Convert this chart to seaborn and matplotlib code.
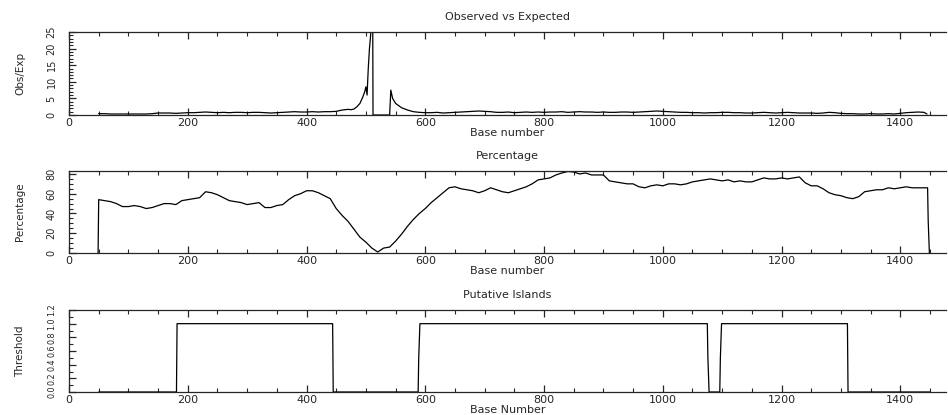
import pandas as pd
import matplotlib.pyplot as plt
import seaborn as sns
from matplotlib.ticker import MultipleLocator

obs_base = [50, 60, 70, 80, 90, 100, 110, 120, 130, 140, 150, 160, 170, 180, 190,
            200, 210, 220, 230, 240, 250, 260, 270, 280, 290, 300, 310, 320, 330, 340,
            350, 360, 370, 380, 390, 400, 410, 420, 430, 440, 450, 460, 470, 475, 480,
            485, 490, 495, 498, 500, 502, 504, 506, 508, 510, 511, 512, 540, 541, 542,
            545, 550, 560, 570, 580, 590, 600, 610, 620, 630, 640, 650, 660, 670, 680,
            690, 700, 710, 720, 730, 740, 750, 760, 770, 780, 790, 800, 810, 820, 830,
            840, 850, 860, 870, 880, 890, 900, 910, 920, 930, 940, 950, 960, 970, 980,
            990, 1000, 1010, 1020, 1030, 1040, 1050, 1060, 1070, 1080, 1090, 1100, 1110,
            1120, 1130, 1140, 1150, 1160, 1170, 1180, 1190, 1200, 1210, 1220, 1230, 1240,
            1250, 1260, 1270, 1280, 1290, 1300, 1310, 1320, 1330, 1340, 1350, 1360, 1370,
            1380, 1390, 1400, 1410, 1420, 1430, 1440, 1445]
obs_exp = [0.4, 0.4, 0.3, 0.3, 0.3, 0.3, 0.3, 0.3, 0.3, 0.4, 0.6, 0.6, 0.6, 0.5, 0.6,
           0.7, 0.7, 0.8, 0.9, 0.8, 0.7, 0.8, 0.7, 0.8, 0.8, 0.7, 0.8, 0.8, 0.7, 0.6,
           0.7, 0.8, 0.9, 1.0, 0.9, 0.9, 1.0, 0.9, 1.0, 1.0, 1.1, 1.5, 1.7, 1.6, 1.8,
           2.5, 3.5, 5.5, 7.0, 8.5, 6.0, 14, 20, 24, 60, 60, 0, 0, 3.5, 7.5,
           5.0, 3.5, 2.2, 1.5, 1.0, 0.8, 0.7, 0.7, 0.8, 0.6, 0.7, 0.8, 0.9, 1.0, 1.1,
           1.2, 1.1, 1.0, 0.8, 0.8, 0.9, 0.7, 0.8, 0.9, 0.8, 0.9, 0.8, 0.9, 0.9, 1.0,
           0.8, 0.9, 1.0, 0.9, 0.9, 0.8, 0.9, 0.8, 0.8, 0.9, 0.9, 0.8, 0.9, 1.0, 1.1,
           1.2, 1.1, 1.0, 0.9, 0.8, 0.8, 0.7, 0.7, 0.6, 0.7, 0.7, 0.8, 0.8,
           0.7, 0.7, 0.6, 0.6, 0.7, 0.8, 0.7, 0.6, 0.7, 0.8, 0.7, 0.6, 0.6,
           0.6, 0.5, 0.6, 0.8, 0.7, 0.5, 0.4, 0.4, 0.3, 0.3, 0.4, 0.3, 0.3,
           0.4, 0.3, 0.5, 0.7, 0.8, 0.9, 0.8, 0.3]

pct_base = [49, 50, 60, 70, 80, 90, 100, 110, 120, 130, 140, 150, 160, 170, 180, 190,
            200, 210, 220, 230, 240, 250, 260, 270, 280, 290, 300, 310, 320, 330, 340,
            350, 360, 370, 380, 390, 400, 410, 420, 430, 440, 450, 460, 470, 480, 490,
            500, 510, 520, 530, 540, 550, 560, 570, 580, 590, 600, 610, 620, 630, 640,
            650, 660, 670, 680, 690, 700, 710, 720, 730, 740, 750, 760, 770, 780, 790,
            800, 810, 820, 830, 840, 850, 860, 870, 880, 890, 900, 910, 920, 930, 940,
            950, 960, 970, 980, 990, 1000, 1010, 1020, 1030, 1040, 1050, 1060, 1070,
            1080, 1090, 1100, 1110, 1120, 1130, 1140, 1150, 1160, 1170, 1180, 1190,
            1200, 1210, 1220, 1230, 1240, 1250, 1260, 1270, 1280, 1290, 1300, 1310,
            1320, 1330, 1340, 1350, 1360, 1370, 1380, 1390, 1400, 1410, 1420, 1430,
            1440, 1446, 1447, 1449]
percentage = [0, 54, 53, 52, 50, 47, 47, 48, 47, 45, 46, 48, 50, 50, 49, 53,
              54, 55, 56, 62, 61, 59, 56, 53, 52, 51, 49, 50, 51, 46, 46,
              48, 49, 54, 58, 60, 63, 63, 61, 58, 55, 45, 38, 32, 24, 16,
              11, 5, 1, 5, 6, 12, 19, 27, 34, 40, 45, 51, 56, 61, 66,
              67, 65, 64, 63, 61, 63, 66, 64, 62, 61, 63, 65, 67, 70, 74,
              75, 76, 79, 81, 82.5, 82, 80, 81, 79, 79, 79, 73, 72, 71, 70,
              70, 67, 66, 68, 69, 68, 70, 70, 69, 70, 72, 73, 74,
              75, 74, 73, 74, 72, 73, 72, 72, 74, 76, 75, 75,
              76, 75, 76, 77, 71, 68, 68, 65, 61, 59, 58, 56,
              55, 57, 62, 63, 64, 64, 66, 65, 66, 67, 66, 66,
              66, 66, 33, 0]

isl_base = [50, 181, 182, 444, 445, 588, 589, 591, 1075, 1076, 1078,
            1096, 1097, 1099, 1311, 1312, 1450]
isl_flag = [0, 0, 1, 1, 0, 0, 0.5, 1, 1, 0.5, 0,
            0, 0.5, 1, 1, 0, 0]
isl_ticks = [0.0, 0.2, 0.4, 0.6, 0.8, 1.0, 1.2]

sns.set_style("ticks")
plt.rcParams['font.family'] = ['DejaVu Sans']

fig = plt.figure(figsize=(9.48, 4.15), dpi=100)
left, width = 69 / 948, 877 / 948
boxes = [(32, 115), (171, 253), (310, 392)]
axes = [fig.add_axes([left, 1 - b / 415, width, (b - t) / 415]) for t, b in boxes]

panels = [
    (obs_base, obs_exp, "Observed vs Expected", "Obs/Exp", "Base number", 25, 5, 1),
    (pct_base, percentage, "Percentage", "Percentage", "Base number", 83, 20, 5),
    (isl_base, isl_flag, "Putative Islands", "Threshold", "Base Number", 1.2, 0.2, 0.1),
]

for ax, (xs, ys, title, ylab, xlab, ytop, ymaj, ymin) in zip(axes, panels):
    df = pd.DataFrame({"base": xs, "val": ys})
    sns.lineplot(data=df, x="base", y="val", ax=ax, color="black", lw=0.9,
                 estimator=None, sort=False)
    ax.set_xlim(0, 1477)
    ax.set_ylim(0, ytop)
    ax.xaxis.set_major_locator(MultipleLocator(200))
    ax.xaxis.set_minor_locator(MultipleLocator(50))
    ax.yaxis.set_major_locator(MultipleLocator(ymaj))
    ax.yaxis.set_minor_locator(MultipleLocator(ymin))
    ax.tick_params(axis="x", which="both", direction="in", top=True, bottom=True,
                   labelsize=8, pad=2.5)
    ax.tick_params(axis="x", which="major", length=5, width=0.9)
    ax.tick_params(axis="x", which="minor", length=3, width=0.8)
    ax.tick_params(axis="y", which="major", direction="in", length=5, width=0.9, pad=9)
    ax.tick_params(axis="y", which="minor", direction="in", length=3, width=0.8)
    ax.spines["right"].set_visible(False)
    for s in ["left", "top", "bottom"]:
        ax.spines[s].set_linewidth(0.9)
    if ymaj < 1:
        ax.set_yticks(isl_ticks)
        ax.set_yticklabels([f"{v:.1f}" for v in isl_ticks])
        size = 5.8
    else:
        size = 7
    for lab in ax.get_yticklabels():
        lab.set_rotation(90)
        lab.set_va("center")
        lab.set_fontsize(size)
    ax.set_title(title, fontsize=8, pad=9)
    ax.set_xlabel(xlab, fontsize=8, labelpad=-0.5)
    ax.set_ylabel(ylab, fontsize=7.5)
    ax.yaxis.set_label_coords(-0.05, 0.5)

plt.savefig("out.png", dpi=100)
